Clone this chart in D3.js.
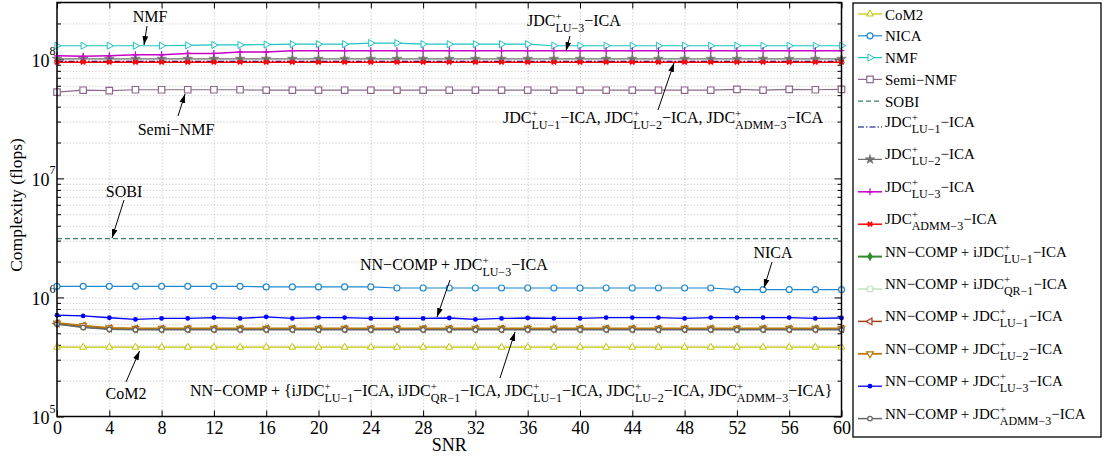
<!DOCTYPE html>
<html><head><meta charset="utf-8">
<script src="https://cdn.jsdelivr.net/npm/d3@7"></script>
<style>body{margin:0;background:#fff}text{font-family:"Liberation Serif","Times New Roman",serif;white-space:pre}</style>
</head><body>
<svg id="chart" width="1104" height="459"></svg>
<script>
// ---------- data ----------
const snr = [0,2,4,6,8,10,12,14,16,18,20,22,24,26,28,30,32,34,36,38,40,42,44,46,48,50,52,54,56,58,60];
const xTicks = [0,4,8,12,16,20,24,28,32,36,40,44,48,52,56,60];
const yDecades = [5,6,7,8];

const com2 = [3.82e5,3.82e5,3.82e5,3.82e5,3.82e5,3.82e5,3.82e5,3.82e5,3.82e5,3.82e5,
              3.82e5,3.82e5,3.82e5,3.82e5,3.82e5,3.82e5,3.82e5,3.82e5,3.82e5,3.82e5,
              3.82e5,3.82e5,3.82e5,3.82e5,3.82e5,3.82e5,3.82e5,3.82e5,3.82e5,3.82e5,
              3.82e5];
const nica = [1.24e6,1.24e6,1.24e6,1.24e6,1.24e6,1.24e6,1.24e6,1.24e6,1.225e6,1.225e6,
              1.225e6,1.225e6,1.225e6,1.2e6,1.2e6,1.2e6,1.2e6,1.2e6,1.2e6,1.2e6,
              1.2e6,1.2e6,1.2e6,1.2e6,1.2e6,1.2e6,1.165e6,1.165e6,1.165e6,1.165e6,
              1.165e6];
const nmf = [1.3e8,1.3e8,1.3e8,1.3e8,1.3e8,1.31e8,1.32e8,1.32e8,1.33e8,1.34e8,
             1.34e8,1.34e8,1.37e8,1.37e8,1.34e8,1.34e8,1.34e8,1.34e8,1.34e8,1.3e8,
             1.3e8,1.3e8,1.3e8,1.3e8,1.3e8,1.3e8,1.3e8,1.3e8,1.3e8,1.3e8,
             1.3e8];
const semiNmf = [5.3e7,5.5e7,5.45e7,5.55e7,5.55e7,5.55e7,5.55e7,5.55e7,5.5e7,5.5e7,
                 5.5e7,5.5e7,5.5e7,5.5e7,5.5e7,5.5e7,5.5e7,5.5e7,5.5e7,5.5e7,
                 5.5e7,5.5e7,5.5e7,5.5e7,5.5e7,5.5e7,5.6e7,5.5e7,5.6e7,5.55e7,
                 5.6e7];
const sobi = [3.12e6,3.12e6,3.12e6,3.12e6,3.12e6,3.12e6,3.12e6,3.12e6,3.12e6,3.12e6,
              3.12e6,3.12e6,3.12e6,3.12e6,3.12e6,3.12e6,3.12e6,3.12e6,3.12e6,3.12e6,
              3.12e6,3.12e6,3.12e6,3.12e6,3.12e6,3.12e6,3.12e6,3.12e6,3.12e6,3.12e6,
              3.12e6];
const jdcLu1 = [9.6e7,9.6e7,9.6e7,9.6e7,9.6e7,9.6e7,9.6e7,9.6e7,9.6e7,9.6e7,
                9.6e7,9.6e7,9.6e7,9.6e7,9.6e7,9.6e7,9.6e7,9.6e7,9.6e7,9.6e7,
                9.6e7,9.6e7,9.6e7,9.6e7,9.6e7,9.6e7,9.6e7,9.6e7,9.6e7,9.6e7,
                9.6e7];
const jdcLu2 = [1.01e8,1.01e8,1.01e8,1.01e8,1.01e8,1.01e8,1.01e8,1.01e8,1.01e8,1.01e8,
                1.01e8,1.01e8,1.01e8,1.01e8,1.01e8,1.01e8,1.01e8,1.01e8,1.01e8,1.01e8,
                1.01e8,1.01e8,1.01e8,1.01e8,1.01e8,1.01e8,1.01e8,1.01e8,1.01e8,1.01e8,
                1.01e8];
const jdcLu3 = [1.07e8,1.06e8,1.07e8,1.09e8,1.09e8,1.12e8,1.12e8,1.15e8,1.15e8,1.18e8,
                1.18e8,1.18e8,1.18e8,1.18e8,1.18e8,1.18e8,1.18e8,1.18e8,1.18e8,1.18e8,
                1.18e8,1.18e8,1.18e8,1.18e8,1.18e8,1.18e8,1.18e8,1.18e8,1.18e8,1.18e8,
                1.18e8];
const jdcAdmm3 = [9.45e7,9.45e7,9.45e7,9.45e7,9.45e7,9.45e7,9.45e7,9.45e7,9.45e7,9.45e7,
                  9.45e7,9.45e7,9.45e7,9.45e7,9.45e7,9.45e7,9.45e7,9.45e7,9.45e7,9.45e7,
                  9.45e7,9.45e7,9.45e7,9.45e7,9.45e7,9.45e7,9.45e7,9.45e7,9.45e7,9.45e7,
                  9.45e7];
const nnIjdcLu1 = [6.0e5,5.7e5,5.45e5,5.42e5,5.42e5,5.42e5,5.42e5,5.42e5,5.42e5,5.42e5,
                   5.42e5,5.42e5,5.42e5,5.42e5,5.42e5,5.42e5,5.42e5,5.42e5,5.42e5,5.42e5,
                   5.42e5,5.42e5,5.42e5,5.42e5,5.42e5,5.42e5,5.42e5,5.42e5,5.42e5,5.42e5,
                   5.42e5];
const nnIjdcQr1 = [6.0e5,5.7e5,5.45e5,5.42e5,5.42e5,5.42e5,5.42e5,5.42e5,5.42e5,5.42e5,
                   5.42e5,5.42e5,5.42e5,5.42e5,5.42e5,5.42e5,5.42e5,5.42e5,5.42e5,5.42e5,
                   5.42e5,5.42e5,5.42e5,5.42e5,5.42e5,5.42e5,5.42e5,5.42e5,5.42e5,5.42e5,
                   5.42e5];
const nnJdcLu1 = [6.05e5,5.75e5,5.5e5,5.45e5,5.45e5,5.45e5,5.45e5,5.45e5,5.45e5,5.45e5,
                  5.45e5,5.45e5,5.45e5,5.45e5,5.45e5,5.45e5,5.45e5,5.45e5,5.45e5,5.45e5,
                  5.45e5,5.45e5,5.45e5,5.45e5,5.45e5,5.45e5,5.45e5,5.45e5,5.45e5,5.45e5,
                  5.45e5];
const nnJdcLu2 = [6.1e5,5.8e5,5.55e5,5.5e5,5.5e5,5.5e5,5.5e5,5.5e5,5.5e5,5.5e5,
                  5.5e5,5.5e5,5.5e5,5.5e5,5.5e5,5.5e5,5.5e5,5.5e5,5.5e5,5.5e5,
                  5.5e5,5.5e5,5.5e5,5.5e5,5.5e5,5.5e5,5.5e5,5.5e5,5.5e5,5.5e5,
                  5.5e5];
const nnJdcLu3 = [7.1e5,7.0e5,6.75e5,6.53e5,6.66e5,6.66e5,6.78e5,6.66e5,6.87e5,6.66e5,
                  6.78e5,6.78e5,6.66e5,6.66e5,6.66e5,6.72e5,6.53e5,6.66e5,6.72e5,6.66e5,
                  6.66e5,6.78e5,6.78e5,6.78e5,6.66e5,6.78e5,6.78e5,6.78e5,6.78e5,6.66e5,
                  6.72e5];
const nnJdcAdmm3 = [5.97e5,5.6e5,5.4e5,5.35e5,5.35e5,5.35e5,5.35e5,5.35e5,5.35e5,5.35e5,
                    5.35e5,5.35e5,5.35e5,5.35e5,5.35e5,5.35e5,5.35e5,5.35e5,5.35e5,5.35e5,
                    5.35e5,5.35e5,5.35e5,5.35e5,5.35e5,5.35e5,5.35e5,5.35e5,5.35e5,5.35e5,
                    5.35e5];

// ---------- series (legend order) ----------
const series = [
  {name:["CoM2"], values:com2, color:"#c4c400", marker:"triUp", w:1.2},
  {name:["NICA"], values:nica, color:"#1f88d0", marker:"circle", w:1.2},
  {name:["NMF"], values:nmf, color:"#1cc4c4", marker:"triRight", w:1.2},
  {name:["Semi\u2212NMF"], values:semiNmf, color:"#8b6b8b", marker:"square", w:1.2},
  {name:["SOBI"], values:sobi, color:"#3d8062", marker:null, dash:"5,3", w:1.2},
  {name:["JDC",{sup:"+",sub:"LU\u22121"},"\u2212ICA"], values:jdcLu1, color:"#000080", marker:null, dash:"6,2,1.5,2", w:1.2},
  {name:["JDC",{sup:"+",sub:"LU\u22122"},"\u2212ICA"], values:jdcLu2, color:"#707070", marker:"star", w:1.2},
  {name:["JDC",{sup:"+",sub:"LU\u22123"},"\u2212ICA"], values:jdcLu3, color:"#c800c8", marker:"plus", w:1.5},
  {name:["JDC",{sup:"+",sub:"ADMM\u22123"},"\u2212ICA"], values:jdcAdmm3, color:"#ff0000", marker:"x", w:1.5},
  {name:["NN\u2212COMP + iJDC",{sup:"+",sub:"LU\u22121"},"\u2212ICA"], values:nnIjdcLu1, color:"#2e8b2e", marker:"diamond", w:2},
  {name:["NN\u2212COMP + iJDC",{sup:"+",sub:"QR\u22121"},"\u2212ICA"], values:nnIjdcQr1, color:"#bfe3bf", marker:"circle", w:1.5},
  {name:["NN\u2212COMP + JDC",{sup:"+",sub:"LU\u22121"},"\u2212ICA"], values:nnJdcLu1, color:"#a63d1a", marker:"triLeft", w:1.5},
  {name:["NN\u2212COMP + JDC",{sup:"+",sub:"LU\u22122"},"\u2212ICA"], values:nnJdcLu2, color:"#b8780a", marker:"triDown", w:1.8},
  {name:["NN\u2212COMP + JDC",{sup:"+",sub:"LU\u22123"},"\u2212ICA"], values:nnJdcLu3, color:"#0000ff", marker:"dot", w:1.3},
  {name:["NN\u2212COMP + JDC",{sup:"+",sub:"ADMM\u22123"},"\u2212ICA"], values:nnJdcAdmm3, color:"#666666", marker:"smallCircle", w:1.5}
];

// ---------- layout ----------
const svg = d3.select("#chart");
const X0 = 57, X1 = 841.5, Y0 = 2.5, Y1 = 416.5;
const x = d3.scaleLinear().domain([0,60]).range([X0,X1]);
const y = d3.scaleLog().domain([1e5,3e8]).range([Y1,Y0]);

const majors = yDecades.map(d => Math.pow(10,d));
const minors = [];
yDecades.forEach(d => { for (let m=2;m<=9;m++){ const v=m*Math.pow(10,d); if (v<=3e8*1.0001) minors.push(v);} });
const allY = majors.concat(minors);

// grid
const gridStyle = g => { g.select(".domain").remove(); g.selectAll("line").attr("stroke","#b8b8b8").attr("stroke-width",0.9).attr("stroke-dasharray","1,2.2"); };
svg.append("g").attr("transform",`translate(0,${Y1})`)
  .call(d3.axisBottom(x).tickValues(xTicks.slice(1,-1)).tickSize(-(Y1-Y0)).tickFormat(""))
  .call(gridStyle);
svg.append("g").attr("transform",`translate(${X0},0)`)
  .call(d3.axisLeft(y).tickValues(allY.filter(v=>v>1e5 && v<3e8)).tickSize(-(X1-X0)).tickFormat(""))
  .call(gridStyle);

// axes with inward ticks
const tickStyle = g => { g.select(".domain").remove(); g.selectAll("line").attr("stroke","#000").attr("stroke-width",1); };
svg.append("g").attr("transform",`translate(${X0},0)`).call(d3.axisLeft(y).tickValues(majors).tickSizeInner(-7).tickSizeOuter(0).tickFormat("")).call(tickStyle);
svg.append("g").attr("transform",`translate(${X0},0)`).call(d3.axisLeft(y).tickValues(minors).tickSizeInner(-4).tickSizeOuter(0).tickFormat("")).call(tickStyle);
svg.append("g").attr("transform",`translate(${X1},0)`).call(d3.axisRight(y).tickValues(majors).tickSizeInner(-7).tickSizeOuter(0).tickFormat("")).call(tickStyle);
svg.append("g").attr("transform",`translate(${X1},0)`).call(d3.axisRight(y).tickValues(minors).tickSizeInner(-4).tickSizeOuter(0).tickFormat("")).call(tickStyle);
svg.append("g").attr("transform",`translate(0,${Y0})`).call(d3.axisTop(x).tickValues(xTicks).tickSizeInner(-6).tickSizeOuter(0).tickFormat("")).call(tickStyle);
const xAxis = svg.append("g").attr("transform",`translate(0,${Y1})`)
  .call(d3.axisBottom(x).tickValues(xTicks).tickSizeInner(-6).tickSizeOuter(0).tickPadding(5))
  .call(tickStyle);
xAxis.selectAll("text").attr("font-family","Liberation Serif, serif").attr("font-size",18).attr("fill","#000");

// y tick labels 10^k
const yl = svg.append("g");
yDecades.forEach(d => {
  const v = Math.pow(10,d), yy = y(v);
  yl.append("text").attr("x",49.5).attr("y",yy+7.5).attr("text-anchor","end").attr("font-size",18).text("10");
  yl.append("text").attr("x",49.5).attr("y",yy-4).attr("font-size",12).text(String(d));
});

// axis labels
svg.append("text").attr("x",(X0+X1)/2).attr("y",451).attr("text-anchor","middle").attr("font-size",18).text("SNR");
svg.append("text").attr("transform","translate(22,205) rotate(-90)").attr("text-anchor","middle").attr("font-size",17.5).text("Complexity (flops)");

// markers
function drawMarker(g, type, color, cx, cy){
  const t = `translate(${cx},${cy})`;
  const sym = (s,size,rot) => g.append("path").attr("d",d3.symbol(s,size)()).attr("transform",t+(rot?` rotate(${rot})`:""));
  switch(type){
    case "triUp": sym(d3.symbolTriangle,20).attr("fill","#fff").attr("stroke",color).attr("stroke-width",1); break;
    case "triRight": sym(d3.symbolTriangle,22,90).attr("fill","#fff").attr("stroke",color).attr("stroke-width",1); break;
    case "triLeft": sym(d3.symbolTriangle,20,-90).attr("fill","#fff").attr("stroke",color).attr("stroke-width",1.2); break;
    case "triDown": sym(d3.symbolTriangle,20,180).attr("fill","#fff").attr("stroke",color).attr("stroke-width",1.2); break;
    case "circle": g.append("circle").attr("cx",cx).attr("cy",cy).attr("r",3).attr("fill","#fff").attr("stroke",color).attr("stroke-width",1.2); break;
    case "smallCircle": g.append("circle").attr("cx",cx).attr("cy",cy).attr("r",2.3).attr("fill","#fff").attr("stroke",color).attr("stroke-width",1.3); break;
    case "square": sym(d3.symbolSquare,42).attr("fill","#fff").attr("stroke",color).attr("stroke-width",1.2); break;
    case "star": sym(d3.symbolStar,30).attr("fill",color).attr("stroke",color).attr("stroke-width",0.5); break;
    case "plus": g.append("path").attr("d","M-3,0H3M0,-3.5V3.5").attr("transform",t).attr("stroke",color).attr("stroke-width",1.2).attr("fill","none"); break;
    case "x": g.append("path").attr("d","M-2.2,-2.2L2.2,2.2M-2.2,2.2L2.2,-2.2").attr("transform",t).attr("stroke",color).attr("stroke-width",1.8).attr("fill","none"); break;
    case "diamond": sym(d3.symbolDiamond,18).attr("fill",color).attr("stroke",color).attr("stroke-width",1); break;
    case "dot": g.append("circle").attr("cx",cx).attr("cy",cy).attr("r",2.4).attr("fill",color); break;
  }
}

// series
const plot = svg.append("g");
const line = d3.line().x(d=>x(d[0])).y(d=>y(d[1]));
series.forEach(s => {
  const pts = snr.map((v,i)=>[v,s.values[i]]);
  const g = plot.append("g");
  g.append("path").datum(pts).attr("d",line).attr("fill","none").attr("stroke",s.color)
    .attr("stroke-width",s.w).attr("stroke-dasharray",s.dash||null);
  if (s.marker) pts.forEach(p => drawMarker(g, s.marker, s.color, x(p[0]), y(p[1])));
});

// frame
svg.append("rect").attr("x",X0).attr("y",Y0).attr("width",X1-X0).attr("height",Y1-Y0)
  .attr("fill","none").attr("stroke","#000").attr("stroke-width",1.5);

// rich text helper
function rich(parent, x0, yb, parts, fs, ss, ps, anchor){
  const g = parent.append("g");
  let cx = 0;
  parts.forEach(p => {
    if (typeof p === "string"){
      const t = g.append("text").attr("x",cx).attr("y",yb).attr("font-size",fs).text(p);
      cx += t.node().getComputedTextLength();
    } else {
      const a = g.append("text").attr("x",cx).attr("y",yb-6).attr("font-size",ps).text(p.sup);
      const b = g.append("text").attr("x",cx).attr("y",yb+6).attr("font-size",ss).text(p.sub);
      cx += Math.max(a.node().getComputedTextLength(), b.node().getComputedTextLength());
    }
  });
  const dx = anchor==="middle" ? x0 - cx/2 : x0;
  g.attr("transform",`translate(${dx},0)`);
  return g;
}

// legend
const lg = svg.append("g");
lg.append("rect").attr("x",853).attr("y",3).attr("width",248).attr("height",434)
  .attr("fill","#fff").attr("stroke","#000").attr("stroke-width",1.3);
series.forEach((s,i) => {
  const ly = i<5 ? 14 + 21.8*i : 127 + 32.4*(i-5);
  lg.append("line").attr("x1",858).attr("x2",882).attr("y1",ly).attr("y2",ly)
    .attr("stroke",s.color).attr("stroke-width",s.w).attr("stroke-dasharray",s.dash||null);
  if (s.marker) drawMarker(lg, s.marker, s.color, 870, ly);
  const simple = s.name.length===1;
  rich(lg, 885, simple ? ly+5.5 : ly, s.name, 15, 12, 11, "start");
});

// annotations
svg.append("defs").append("marker").attr("id","ah").attr("viewBox","0 0 10 10")
  .attr("refX",10).attr("refY",5).attr("markerWidth",9).attr("markerHeight",9)
  .attr("markerUnits","userSpaceOnUse").attr("orient","auto")
  .append("path").attr("d","M0,1.8L10,5L0,8.2Z").attr("fill","#000");
const ann = svg.append("g");
function arrow(x1,y1,x2,y2){
  ann.append("line").attr("x1",x1).attr("y1",y1).attr("x2",x2).attr("y2",y2)
    .attr("stroke","#000").attr("stroke-width",1).attr("marker-end","url(#ah)");
}
rich(ann,150,21.5,["NMF"],16,12,11,"middle"); arrow(147,26,144,45);
rich(ann,176,135,["Semi\u2212NMF"],16,12,11,"middle"); arrow(178,116,185,94);
rich(ann,527,26,["JDC",{sup:"+",sub:"LU\u22123"},"\u2212ICA"],16,12,11,"start"); arrow(570,36,566,51);
rich(ann,503,123,["JDC",{sup:"+",sub:"LU\u22121"},"\u2212ICA, JDC",{sup:"+",sub:"LU\u22122"},"\u2212ICA, JDC",{sup:"+",sub:"ADMM\u22123"},"\u2212ICA"],16,12,11,"start"); arrow(658,110,674,63);
rich(ann,124,196.5,["SOBI"],16,12,11,"middle"); arrow(124,200,112,238);
rich(ann,360,270,["NN\u2212COMP + JDC",{sup:"+",sub:"LU\u22123"},"\u2212ICA"],16,12,11,"start"); arrow(450,280,437,317);
rich(ann,773,258,["NICA"],16,12,11,"middle"); arrow(772,262,764,288);
rich(ann,190,396,["NN\u2212COMP + {iJDC",{sup:"+",sub:"LU\u22121"},"\u2212ICA, iJDC",{sup:"+",sub:"QR\u22121"},"\u2212ICA, JDC",{sup:"+",sub:"LU\u22121"},"\u2212ICA, JDC",{sup:"+",sub:"LU\u22122"},"\u2212ICA, JDC",{sup:"+",sub:"ADMM\u22123"},"\u2212ICA}"],16,12,11,"start"); arrow(500,378,515,332);
rich(ann,126,398.5,["CoM2"],16,12,11,"middle"); arrow(126,382,139.5,351);
</script>
</body></html>
